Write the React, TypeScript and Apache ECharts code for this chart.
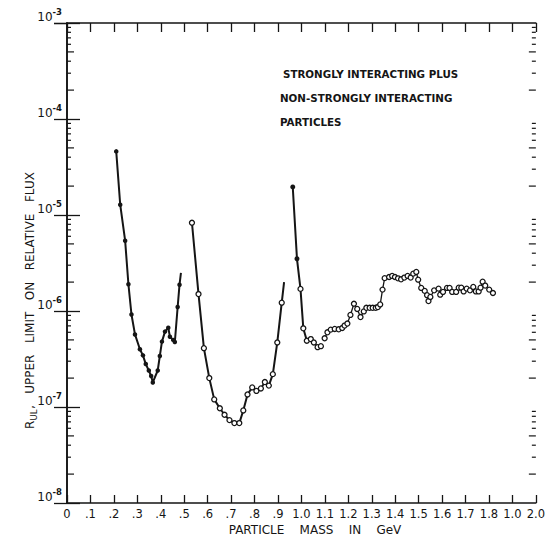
import React, { useEffect, useRef } from "react";
import * as echarts from "echarts";

// ---- tick labels ----
const xTickLabels = [
  "0", ".1", ".2", ".3", ".4", ".5", ".6", ".7", ".8", ".9",
  "1.0", "1.1", "1.2", "1.3", "1.4", "1.5", "1.6", "1.7", "1.8", "1.0", "2.0",
];
const yTickExponents = ["-8", "-7", "-6", "-5", "-4", "-3"];
const minorMultipliers = [2, 3, 4, 5, 6, 7, 8, 9];
const minorDecades = [-8, -7, -6, -5, -4];

// ---- texts ----
const annotationLines = [
  "STRONGLY INTERACTING PLUS",
  "NON-STRONGLY INTERACTING",
  "PARTICLES",
];
const xTitle = "PARTICLE    MASS    IN    GeV";
const yTitleR = "R";
const yTitleSub = "UL";
const yTitleMain = ",   UPPER   LIMIT   ON   RELATIVE   FLUX";

// ---- segment 1 (filled dots) ----
const seg1Mass = [0.210, 0.227, 0.248, 0.262, 0.275, 0.290, 0.311, 0.324, 0.336, 0.349, 0.359, 0.366, 0.387, 0.396, 0.405, 0.418, 0.432, 0.439, 0.453, 0.460, 0.472, 0.480];
const seg1Flux = [4.6e-5, 1.28e-5, 5.4e-6, 1.9e-6, 9.2e-7, 5.7e-7, 4.0e-7, 3.45e-7, 2.8e-7, 2.4e-7, 2.1e-7, 1.8e-7, 2.4e-7, 3.4e-7, 4.8e-7, 6.1e-7, 6.7e-7, 5.4e-7, 5.0e-7, 4.75e-7, 1.1e-6, 1.88e-6];
const seg1TailMass = 0.486;
const seg1TailFlux = 2.5e-6;

// ---- segment 2 (open circles) ----
const seg2Mass = [0.533, 0.561, 0.584, 0.607, 0.628, 0.652, 0.672, 0.693, 0.714, 0.735, 0.752, 0.770, 0.790, 0.808, 0.827, 0.844, 0.861, 0.878, 0.897, 0.916];
const seg2Flux = [8.3e-6, 1.5e-6, 4.1e-7, 2.0e-7, 1.2e-7, 9.7e-8, 8.3e-8, 7.3e-8, 6.8e-8, 6.8e-8, 9.2e-8, 1.35e-7, 1.6e-7, 1.47e-7, 1.56e-7, 1.82e-7, 1.67e-7, 2.2e-7, 4.7e-7, 1.22e-6];
const seg2TailMass = 0.926;
const seg2TailFlux = 2.0e-6;

// ---- segment 3 (peak near 0.96 GeV; first two filled) ----
const seg3Mass = [0.963, 0.981, 0.996, 1.008, 1.023, 1.040, 1.053, 1.069, 1.083];
const seg3Flux = [1.96e-5, 3.5e-6, 1.7e-6, 6.6e-7, 4.9e-7, 5.1e-7, 4.7e-7, 4.2e-7, 4.3e-7];
const seg3Filled = [true, true, false, false, false, false, false, false, false];

// ---- segment 4 (open circles, 1.1 - 1.82 GeV) ----
const seg4Mass = [1.099, 1.111, 1.125, 1.142, 1.159, 1.174, 1.184, 1.196, 1.209, 1.224, 1.238, 1.252, 1.266, 1.277, 1.291, 1.304, 1.317, 1.326, 1.336, 1.346, 1.355, 1.374, 1.387, 1.399, 1.412, 1.425, 1.439, 1.453, 1.466, 1.477, 1.490, 1.498, 1.511, 1.526, 1.536, 1.542, 1.550, 1.566, 1.585, 1.592, 1.604, 1.621, 1.632, 1.643, 1.660, 1.671, 1.682, 1.692, 1.705, 1.719, 1.733, 1.744, 1.756, 1.764, 1.773, 1.784, 1.801, 1.817];
const seg4Flux = [5.2e-7, 6.0e-7, 6.4e-7, 6.5e-7, 6.45e-7, 6.65e-7, 7.05e-7, 7.4e-7, 9.1e-7, 1.19e-6, 1.05e-6, 8.65e-7, 9.9e-7, 1.08e-6, 1.08e-6, 1.08e-6, 1.08e-6, 1.1e-6, 1.17e-6, 1.67e-6, 2.2e-6, 2.26e-6, 2.32e-6, 2.26e-6, 2.19e-6, 2.14e-6, 2.23e-6, 2.32e-6, 2.23e-6, 2.45e-6, 2.55e-6, 2.12e-6, 1.74e-6, 1.62e-6, 1.46e-6, 1.27e-6, 1.4e-6, 1.64e-6, 1.71e-6, 1.48e-6, 1.58e-6, 1.74e-6, 1.74e-6, 1.58e-6, 1.58e-6, 1.75e-6, 1.75e-6, 1.6e-6, 1.71e-6, 1.64e-6, 1.78e-6, 1.6e-6, 1.6e-6, 1.75e-6, 2.02e-6, 1.84e-6, 1.67e-6, 1.54e-6];

const INK = "#151515";
const FONT = "DejaVu Sans";

const filledStyle = { color: INK, borderColor: INK, borderWidth: 0 };
const openStyle = { color: "#ffffff", borderColor: INK, borderWidth: 1.3 };

function zip(ms: number[], vs: number[]) {
  return ms.map((m, i) => [m, vs[i]]);
}

export default function App() {
  const ref = useRef<HTMLDivElement>(null);

  useEffect(() => {
    if (!ref.current) return;
    const chart = echarts.init(ref.current, undefined, { renderer: "svg" });

    const seg1Data: any[] = zip(seg1Mass, seg1Flux).map((p) => ({ value: p }));
    seg1Data.push({ value: [seg1TailMass, seg1TailFlux], symbol: "none" });

    const seg2Data: any[] = zip(seg2Mass, seg2Flux).map((p) => ({ value: p }));
    seg2Data.push({ value: [seg2TailMass, seg2TailFlux], symbol: "none" });

    const seg3Data = zip(seg3Mass, seg3Flux).map((p, i) => ({
      value: p,
      symbolSize: 5,
      itemStyle: seg3Filled[i] ? filledStyle : openStyle,
    }));

    const seg4Data = zip(seg4Mass, seg4Flux);

    const minorData: number[][] = [];
    minorDecades.forEach((d) => {
      minorMultipliers.forEach((m) => {
        const len = m === 2 || m === 5 ? 7 : 4;
        minorData.push([0, m * Math.pow(10, d), len]);
      });
    });

    const axisLineStyle = { color: INK, width: 1.6 };

    const option: any = {
      animation: false,
      backgroundColor: "#ffffff",
      grid: { left: 67, top: 23, width: 474, height: 480, containLabel: false },
      xAxis: [
        {
          type: "value",
          min: 0,
          max: 2,
          interval: 0.1,
          position: "bottom",
          axisLine: { lineStyle: axisLineStyle },
          axisTick: { inside: true, length: 8, lineStyle: { color: INK, width: 1.3 } },
          splitLine: { show: false },
          axisLabel: {
            color: INK,
            fontFamily: FONT,
            fontSize: 11.5,
            margin: 5,
            formatter: (v: number) => xTickLabels[Math.round(v * 10)] ?? "",
          },
        },
        {
          type: "value",
          min: 0,
          max: 2,
          interval: 0.1,
          position: "top",
          axisLine: { lineStyle: axisLineStyle },
          axisTick: { inside: true, length: 9, lineStyle: { color: INK, width: 1.3 } },
          splitLine: { show: false },
          axisLabel: { show: false },
        },
      ],
      yAxis: [
        {
          type: "log",
          logBase: 10,
          min: 1e-8,
          max: 1e-3,
          position: "left",
          axisLine: { lineStyle: axisLineStyle },
          axisTick: { inside: true, length: 13, lineStyle: { color: INK, width: 1.3 } },
          splitLine: { show: false },
          axisLabel: {
            color: INK,
            fontFamily: FONT,
            margin: 5,
            verticalAlign: "bottom",
            formatter: (v: number) => {
              const e = Math.round(Math.log10(v));
              const idx = e + 8;
              return "{b|10}{s|" + (yTickExponents[idx] ?? String(e)) + "}";
            },
            rich: {
              b: { fontSize: 12, fontFamily: FONT, color: INK, verticalAlign: "bottom" },
              s: { fontSize: 8.5, fontFamily: FONT, color: INK, fontWeight: "bold", verticalAlign: "bottom", padding: [0, 0, 7, 0] },
            },
          },
        },
        {
          type: "log",
          logBase: 10,
          min: 1e-8,
          max: 1e-3,
          position: "right",
          axisLine: { lineStyle: axisLineStyle },
          axisTick: { inside: true, length: 13, lineStyle: { color: INK, width: 1.3 } },
          splitLine: { show: false },
          axisLabel: { show: false },
        },
      ],
      series: [
        {
          type: "custom",
          xAxisIndex: 0,
          yAxisIndex: 0,
          silent: true,
          clip: false,
          data: minorData,
          renderItem: (_params: any, api: any) => {
            const v = api.value(1);
            const len = api.value(2);
            const pl = api.coord([0, v]);
            const pr = api.coord([2, v]);
            return {
              type: "group",
              children: [
                { type: "line", shape: { x1: pl[0], y1: pl[1], x2: pl[0] + len, y2: pl[1] }, style: { stroke: INK, lineWidth: 1.2 } },
                { type: "line", shape: { x1: pr[0] - len, y1: pr[1], x2: pr[0], y2: pr[1] }, style: { stroke: INK, lineWidth: 1.2 } },
              ],
            };
          },
        },
        {
          type: "line",
          data: seg1Data,
          symbol: "circle",
          symbolSize: 4.5,
          itemStyle: filledStyle,
          lineStyle: { color: INK, width: 2 },
          silent: true,
        },
        {
          type: "line",
          data: seg2Data,
          symbol: "circle",
          symbolSize: 5,
          itemStyle: openStyle,
          lineStyle: { color: INK, width: 2 },
          silent: true,
        },
        {
          type: "line",
          data: seg3Data,
          symbol: "circle",
          symbolSize: 5,
          itemStyle: openStyle,
          lineStyle: { color: INK, width: 2 },
          silent: true,
        },
        {
          type: "line",
          data: seg4Data,
          symbol: "circle",
          symbolSize: 5,
          itemStyle: openStyle,
          lineStyle: { color: INK, width: 1.3 },
          silent: true,
        },
      ],
      graphic: [
        ...annotationLines.map((t, i) => ({
          type: "text",
          left: i === 0 ? 283 : 280,
          top: 69 + i * 24,
          style: { text: t, fill: INK, font: `bold 10.3px "${FONT}"` },
        })),
        {
          type: "text",
          x: 315,
          y: 530,
          style: { text: xTitle, fill: INK, font: `12px "${FONT}"`, align: "center", verticalAlign: "middle" },
        },
        {
          type: "group",
          x: 30,
          y: 300,
          rotation: Math.PI / 2,
          children: [
            {
              type: "text",
              x: -129,
              y: 0,
              style: { text: yTitleR, fill: INK, font: `12px "${FONT}"`, align: "left", verticalAlign: "middle" },
            },
            {
              type: "text",
              x: -120.5,
              y: 4,
              style: { text: yTitleSub, fill: INK, font: `8.5px "${FONT}"`, align: "left", verticalAlign: "middle" },
            },
            {
              type: "text",
              x: -109,
              y: 0,
              style: { text: yTitleMain, fill: INK, font: `12px "${FONT}"`, align: "left", verticalAlign: "middle" },
            },
          ],
        },
      ],
    };

    chart.setOption(option);
    return () => chart.dispose();
  }, []);

  return (
    <div
      ref={ref}
      style={{ position: "absolute", left: 0, top: 0, width: 548, height: 540, background: "#fff" }}
    />
  );
}
